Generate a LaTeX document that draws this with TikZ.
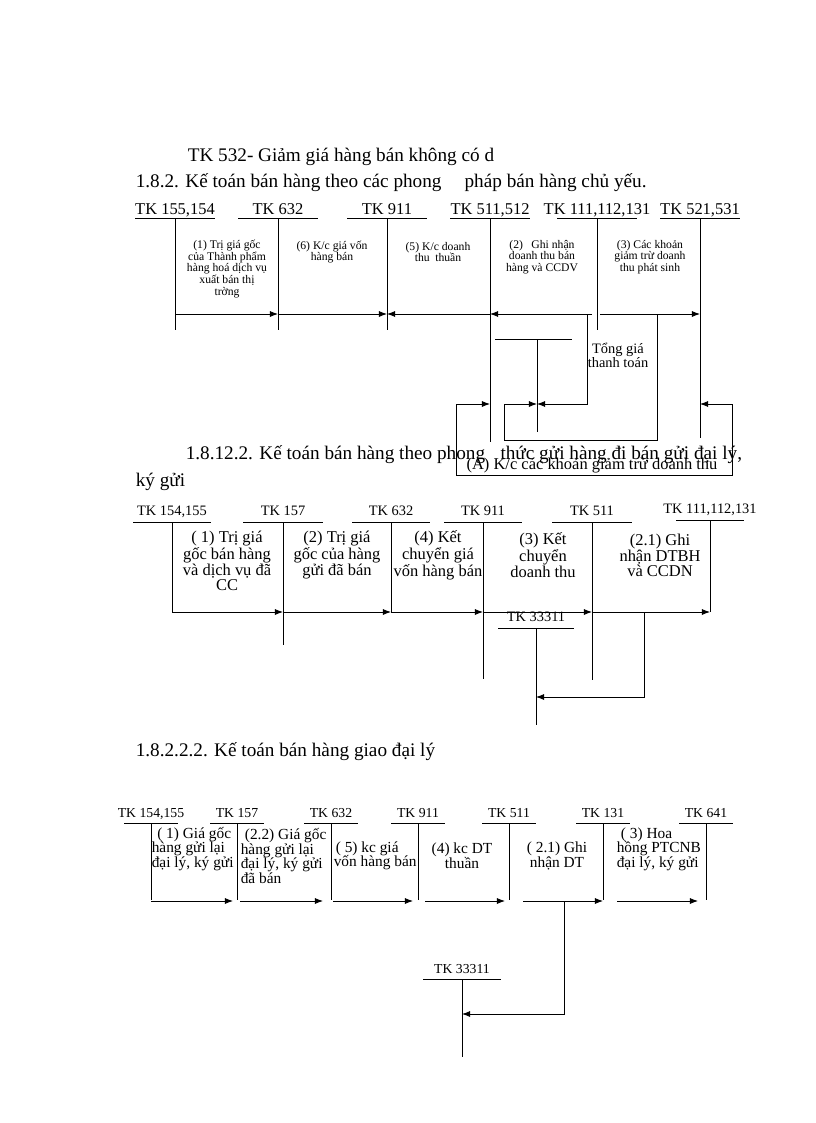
\documentclass[tikz,border=0pt]{standalone}
\usepackage{fontspec}
\setmainfont{Liberation Serif}
\usetikzlibrary{calc,arrows.meta}

\begin{document}
\begin{tikzpicture}[x=0.7286pt,y=-0.7286pt,line width=0.6pt,
    >={Latex[length=6pt,width=4.5pt]},
    every node/.style={inner sep=1pt},
    heading/.style={anchor=west,font=\fontsize{14}{16}\selectfont},
    tkbig/.style={anchor=south,inner ysep=0pt,text depth=2.2pt,font=\fontsize{12}{14}\selectfont},
    tkmid/.style={anchor=south,inner ysep=0pt,text depth=4.8pt,font=\fontsize{10.5}{12}\selectfont},
    tksmall/.style={anchor=south,inner ysep=0pt,text depth=3.5pt,font=\fontsize{10}{12}\selectfont},
    notesmall/.style={align=center,font=\fontsize{8.5}{8.4}\selectfont},
    notemid/.style={align=center,font=\fontsize{12}{10.8}\selectfont},
    notelow/.style={font=\fontsize{11.2}{10.6}\selectfont}]

  \useasboundingbox (0,0) rectangle (816,1123);

  % headings
  \node[heading] (h1) at (186,157) {TK 532- Giảm giá hàng bán không có d};
  \node[heading] (h2) at (134,183) {1.8.2. Kế toán bán hàng theo các phong\hspace{1.2em}pháp bán hàng chủ yếu.};
  \node[heading] (h3a) at (184,455) {1.8.12.2. Kế toán bán hàng theo phong\hspace{0.8em}thức gửi hàng đi bán gửi đại lý,};
  \node[heading] (h3b) at (134,482) {ký gửi};
  \node[heading] (h4) at (134,752) {1.8.2.2.2. Kế toán bán hàng giao đại lý};

  % part 1
  \node[tkbig] (s155) at (175,218) {TK 155,154};
  \node[tkbig] (s632) at (278,218) {TK 632};
  \node[tkbig] (s911) at (387,218) {TK 911};
  \node[tkbig] (s511) at (490,218) {TK 511,512};
  \node[tkbig] (s111) at (597,218) {TK 111,112,131};
  \node[tkbig] (s521) at (700,218) {TK 521,531};

  \node[notesmall] (t1) at (227,269) {(1) Trị giá gốc\\của Thành phẩm\\hàng hoá dịch vụ\\xuất bán thị\\trờng};
  \node[notesmall] (t6) at (332,252) {(6) K/c giá vốn\\hàng bán};
  \node[notesmall] (t5) at (438,252) {(5) K/c doanh\\thu\hspace{2pt} thuần};
  \node[notesmall] (t2) at (542,257) {(2)\hspace{4pt} Ghi nhận\\doanh thu bán\\hàng và CCDV};
  \node[notesmall] (t3) at (650,257) {(3) Các khoản\\giảm trừ doanh\\thu phát sinh};
  \node[align=center,font=\fontsize{10.5}{10.2}\selectfont] (tong) at (618,355) {Tổng giá\\thanh toán};
  \node[font=\fontsize{12}{13}\selectfont] (kcA) at (592,466) {(A) K/c các khoản giảm trừ doanh thu};

  \foreach \n/\w in {s155/40,s632/40,s911/40,s511/40,s111/40,s521/40}
    \draw ($(\n.south)+(-\w,0)$) -- ($(\n.south)+(\w,0)$);
  \foreach \n/\l in {s155/112,s632/112,s911/112,s511/224,s111/112,s521/220}
    \draw (\n.south) -- ++(0,\l);

  \coordinate (ftop) at (0,314);
  \draw[->] (s155 |- ftop) -- (s632 |- ftop);
  \draw[->] (s632 |- ftop) -- (s911 |- ftop);
  \draw[->] (s511 |- ftop) -- (s911 |- ftop);
  \draw[->] ($(s111 |- ftop)+(-5,0)$) -- (s511 |- ftop);
  \draw[->] ($(s111 |- ftop)+(3,0)$) -- (s521 |- ftop);

  \coordinate (p1) at (587,314);
  \coordinate (p2) at (657,314);
  \coordinate (tz) at (537,404);
  \coordinate (q1) at (504,440);
  \coordinate (tl) at (495,339);
  \coordinate (tr) at (572,339);
  \coordinate (tb) at (537,432);
  \draw (tl) -- (tr);
  \draw (tz |- tl) -- (tb);
  \draw[->] (p1) |- (tz);
  \draw[->] (p2) |- (q1) |- (tz);

  \coordinate (r1) at (456,404);
  \coordinate (r2) at (732,475);
  \draw[<->] (s511 |- r1) -- (r1) -- (r1 |- r2) -- (r2) -- (r2 |- r1) -- (s521 |- r1);

  % part 2
  \node[tkmid] (m154) at (172,522) {TK 154,155};
  \node[tkmid] (m157) at (283,522) {TK 157};
  \node[tkmid] (m632) at (391,522) {TK 632};
  \node[tkmid] (m911) at (483,522) {TK 911};
  \node[tkmid] (m511) at (592,522) {TK 511};
  \node[tkmid] (m111) at (710,520) {TK 111,112,131};
  \node[tkmid] (m333) at (536,628) {TK 33311};

  \node[notemid] (n1) at (227,561) {( 1) Trị giá\\gốc bán hàng\\và dịch vụ đã\\CC};
  \node[notemid] (n2) at (337,555) {(2) Trị giá\\gốc của hàng\\gửi đã bán};
  \node[notemid] (n4) at (438,555) {(4) Kết\\chuyển giá\\vốn hàng bán};
  \node[notemid] (n3) at (543,555) {(3) Kết\\chuyển\\doanh thu};
  \node[notemid] (n21) at (660,555) {(2.1) Ghi\\nhận DTBH\\và CCDN};

  \foreach \n/\w in {m154/39,m157/40,m632/39,m911/39,m511/40,m111/34,m333/38}
    \draw ($(\n.south)+(-\w,0)$) -- ($(\n.south)+(\w,0)$);
  \foreach \n/\l in {m154/90,m157/123,m632/90,m911/157,m511/158,m111/92,m333/97}
    \draw (\n.south) -- ++(0,\l);

  \coordinate (fmid) at (0,612);
  \draw[->] (m154 |- fmid) -- (m157 |- fmid);
  \draw[->] (m157 |- fmid) -- (m632 |- fmid);
  \draw[->] (m632 |- fmid) -- (m911 |- fmid);
  \draw[->] (m911 |- fmid) -- (m511 |- fmid);
  \draw[->] (m511 |- fmid) -- (m111 |- fmid);

  \coordinate (g1) at (644,612);
  \coordinate (g2) at (0,697);
  \draw[->] (g1) |- (m333 |- g2);

  % part 3
  \node[tksmall] (b154) at (151,823) {TK 154,155};
  \node[tksmall] (b157) at (237,823) {TK 157};
  \node[tksmall] (b632) at (331,823) {TK 632};
  \node[tksmall] (b911) at (418,823) {TK 911};
  \node[tksmall] (b511) at (509,823) {TK 511};
  \node[tksmall] (b131) at (603,823) {TK 131};
  \node[tksmall] (b641) at (706,823) {TK 641};
  \node[tksmall] (b333) at (462,979) {TK 33311};

  \node[notelow,anchor=west,align=left] (k1) at (150,849) {\hspace{4pt}( 1) Giá gốc\\hàng gửi lại\\đại lý, ký gửi};
  \node[notelow,anchor=west,align=left] (k22) at (239,856) {\hspace{3pt}(2.2) Giá gốc\\hàng gửi lại\\đại lý, ký gửi\\đã bán};
  \node[notelow,anchor=west,align=left] (k5) at (332,856) {\hspace{1.5pt}( 5) kc giá\\vốn hàng bán};
  \node[notelow,align=center] (k4) at (462,856) {(4) kc DT\\thuần};
  \node[notelow,align=center] (k21) at (557,856) {( 2.1) Ghi\\nhận DT};
  \node[notelow,anchor=west,align=left] (k3) at (615,849) {\hspace{3pt}( 3) Hoa\\hồng PTCNB\\đại lý, ký gửi};

  \foreach \n/\w in {b154/27,b157/27,b632/27,b911/27,b511/27,b131/27,b641/27,b333/39}
    \draw ($(\n.south)+(-\w,0)$) -- ($(\n.south)+(\w,0)$);
  \foreach \n/\l in {b154/77,b157/77,b632/77,b911/77,b511/77,b131/77,b641/77,b333/78}
    \draw (\n.south) -- ++(0,\l);

  \coordinate (fbot) at (0,901);
  \foreach \a/\da/\b/\db in {b154/0/b157/-4,b157/3/b632/-8,b632/2/b911/-5,
                             b911/7/b511/-4,b511/14/b131/0,b131/14/b641/-8}
    \draw[->] ($(\a |- fbot)+(\da,0)$) -- ($(\b |- fbot)+(\db,0)$);

  \coordinate (h1) at (564,901);
  \coordinate (h2) at (0,1014);
  \draw[->] (h1) |- (b333 |- h2);
\end{tikzpicture}
\end{document}
